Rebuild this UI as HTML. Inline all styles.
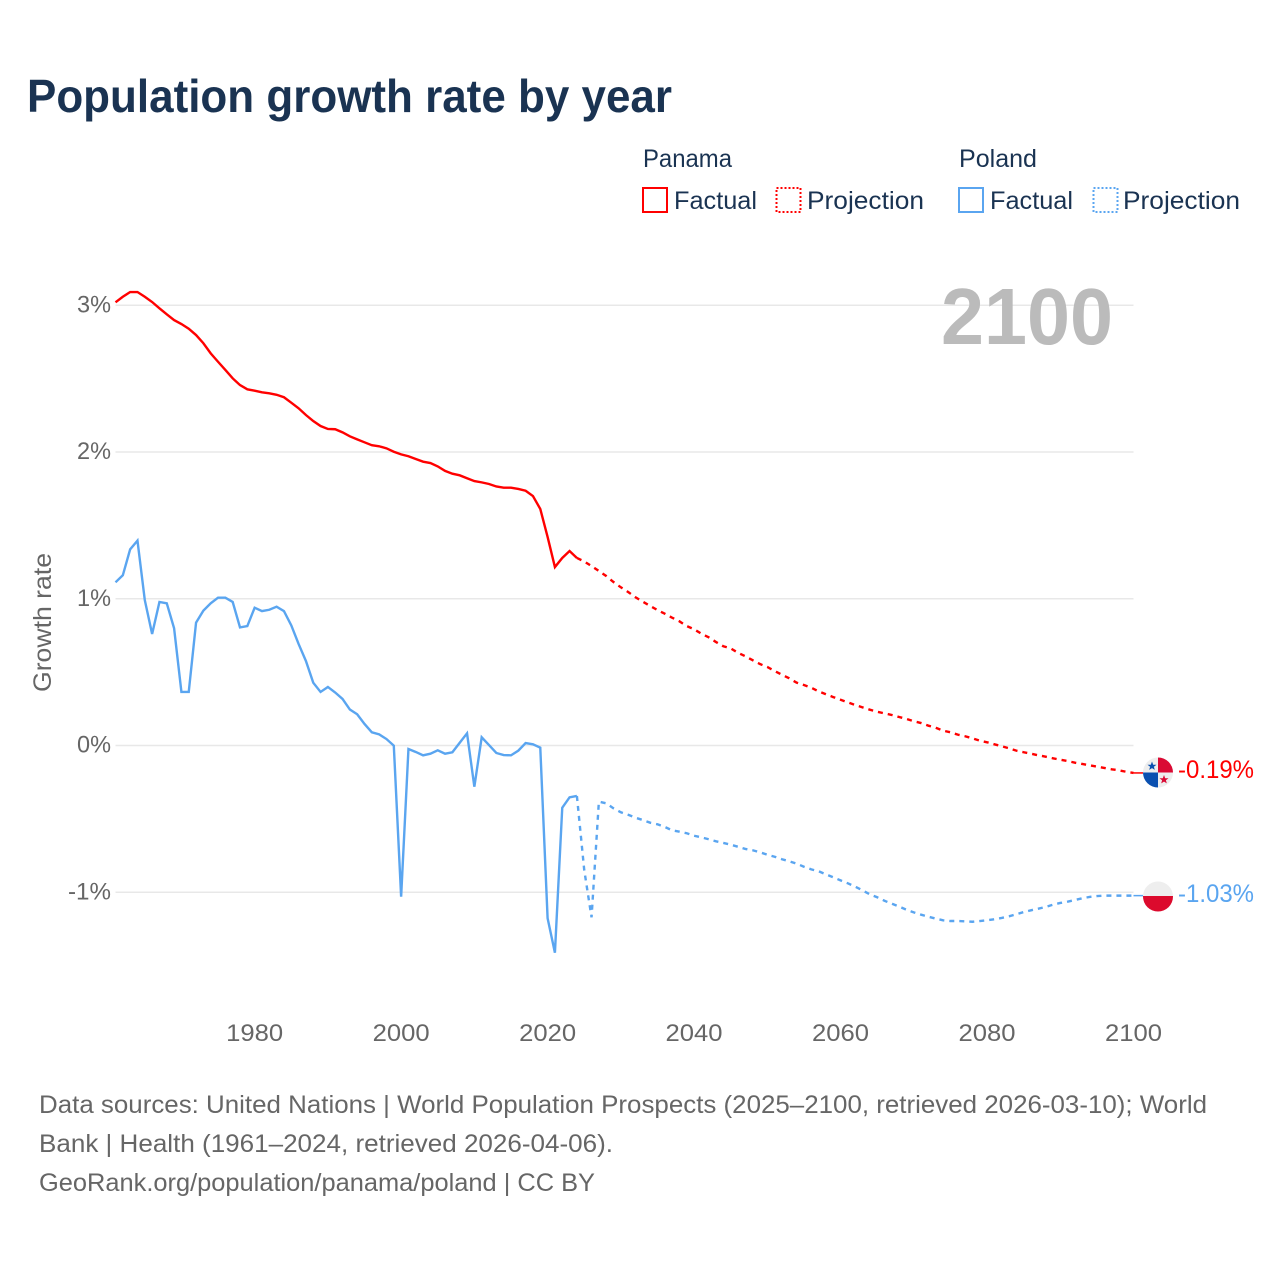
<!DOCTYPE html>
<html lang="en">
<head>
<meta charset="utf-8">
<title>Population growth rate by year</title>
<style>
html,body{margin:0;padding:0;background:#fff;}
svg{display:block;font-family:"Liberation Sans",sans-serif;}
</style>
</head>
<body>
<svg id="chart" xmlns="http://www.w3.org/2000/svg" width="1280" height="1280" viewBox="0 0 1280 1280">
  <rect width="1280" height="1280" fill="#ffffff"/>
  <text x="27" y="112" font-size="46" font-weight="700" fill="#1a3352" textLength="645" lengthAdjust="spacingAndGlyphs">Population growth rate by year</text>

  <g font-size="25" fill="#1a3352">
    <text x="643" y="167" textLength="89" lengthAdjust="spacingAndGlyphs">Panama</text>
    <rect x="643" y="188" width="24" height="24" fill="none" stroke="#ff0000" stroke-width="2"/>
    <text x="674" y="209" textLength="83" lengthAdjust="spacingAndGlyphs">Factual</text>
    <rect x="776.5" y="188" width="24" height="24" fill="none" stroke="#ff0000" stroke-width="2" stroke-dasharray="2 2"/>
    <text x="807" y="209" textLength="117" lengthAdjust="spacingAndGlyphs">Projection</text>
    <text x="959" y="167" textLength="78" lengthAdjust="spacingAndGlyphs">Poland</text>
    <rect x="959" y="188" width="24" height="24" fill="none" stroke="#5aa5f0" stroke-width="2"/>
    <text x="990" y="209" textLength="83" lengthAdjust="spacingAndGlyphs">Factual</text>
    <rect x="1093.5" y="188" width="24" height="24" fill="none" stroke="#5aa5f0" stroke-width="2" stroke-dasharray="2 2"/>
    <text x="1123" y="209" textLength="117" lengthAdjust="spacingAndGlyphs">Projection</text>
  </g>

  <g id="grid"></g>
  <g id="yticks" font-size="24" fill="#666666" text-anchor="end"></g>
  <g id="xticks" font-size="24" fill="#666666" text-anchor="middle"></g>
  <text transform="translate(51,692) rotate(-90)" font-size="25" fill="#666666" textLength="139" lengthAdjust="spacingAndGlyphs">Growth rate</text>

  <text x="941" y="344" font-size="80" font-weight="700" fill="#bbbbbb" textLength="172" lengthAdjust="spacingAndGlyphs">2100</text>

  <g id="series"></g>

  <g>
    <clipPath id="clipPanama"><circle cx="1158" cy="772.5" r="15"/></clipPath>
    <g clip-path="url(#clipPanama)">
      <rect x="1143" y="757" width="30" height="31" fill="#eeeeee"/>
      <rect x="1158" y="757" width="15" height="15.5" fill="#da0a34"/>
      <rect x="1143" y="772.5" width="15" height="15.5" fill="#0a50b0"/>
      <polygon points="1152,762 1153.2,765.2 1156.5,765.3 1153.9,767.3 1154.8,770.4 1152,768.6 1149.2,770.4 1150.1,767.3 1147.5,765.3 1150.8,765.2" transform="translate(0,-0.5)" fill="#0a50b0"/>
      <polygon points="1164,775 1165.2,778.2 1168.5,778.3 1165.9,780.3 1166.8,783.4 1164,781.6 1161.2,783.4 1162.1,780.3 1159.5,778.3 1162.8,778.2" fill="#da0a34"/>
    </g>
  </g>
  <text x="1178" y="778" font-size="25" fill="#ff0000" textLength="76" lengthAdjust="spacingAndGlyphs">-0.19%</text>

  <g>
    <clipPath id="clipPoland"><circle cx="1158" cy="896.5" r="15"/></clipPath>
    <g clip-path="url(#clipPoland)">
      <rect x="1143" y="881" width="30" height="16" fill="#eeeeee"/>
      <rect x="1143" y="896" width="30" height="16" fill="#dc0a2d"/>
    </g>
  </g>
  <text x="1178" y="902" font-size="25" fill="#5aa5f0" textLength="76" lengthAdjust="spacingAndGlyphs">-1.03%</text>

  <g font-size="25" fill="#666666">
    <text x="39" y="1113" textLength="1168" lengthAdjust="spacingAndGlyphs">Data sources: United Nations | World Population Prospects (2025–2100, retrieved 2026-03-10); World</text>
    <text x="39" y="1152" textLength="574" lengthAdjust="spacingAndGlyphs">Bank | Health (1961–2024, retrieved 2026-04-06).</text>
    <text x="39" y="1191" textLength="556" lengthAdjust="spacingAndGlyphs">GeoRank.org/population/panama/poland | CC BY</text>
  </g>
</svg>

<script>
const factualStartYear = 1961;
const projectionStartYear = 2025;
const panamaFactual = [3.020,3.058,3.090,3.090,3.058,3.022,2.979,2.938,2.899,2.872,2.840,2.797,2.741,2.672,2.615,2.559,2.502,2.456,2.427,2.418,2.407,2.400,2.390,2.373,2.336,2.298,2.252,2.211,2.177,2.157,2.155,2.134,2.107,2.086,2.066,2.046,2.039,2.025,2.002,1.984,1.971,1.952,1.934,1.925,1.902,1.871,1.852,1.841,1.821,1.802,1.793,1.782,1.765,1.757,1.757,1.748,1.736,1.700,1.612,1.421,1.216,1.278,1.325,1.278];
const panamaProjection = [1.254,1.223,1.189,1.155,1.114,1.078,1.046,1.010,0.980,0.951,0.923,0.898,0.871,0.846,0.814,0.792,0.762,0.737,0.705,0.676,0.662,0.632,0.608,0.581,0.555,0.535,0.508,0.482,0.458,0.428,0.412,0.394,0.369,0.349,0.330,0.312,0.294,0.276,0.260,0.244,0.230,0.219,0.208,0.194,0.181,0.165,0.153,0.135,0.121,0.101,0.090,0.074,0.063,0.049,0.033,0.022,0.008,-0.005,-0.019,-0.035,-0.046,-0.056,-0.067,-0.076,-0.087,-0.097,-0.106,-0.117,-0.126,-0.135,-0.144,-0.153,-0.162,-0.169,-0.179,-0.187];
const polandFactual = [1.112,1.160,1.337,1.396,0.991,0.760,0.978,0.969,0.799,0.365,0.365,0.837,0.919,0.969,1.007,1.007,0.978,0.805,0.814,0.939,0.916,0.925,0.946,0.916,0.819,0.692,0.576,0.428,0.365,0.399,0.361,0.317,0.245,0.213,0.147,0.090,0.076,0.044,-0.001,-1.030,-0.024,-0.044,-0.067,-0.056,-0.033,-0.056,-0.046,0.019,0.083,-0.281,0.056,0.003,-0.051,-0.065,-0.067,-0.035,0.017,0.008,-0.015,-1.177,-1.412,-0.424,-0.353,-0.344];
const polandProjection = [-0.848,-1.171,-0.383,-0.394,-0.428,-0.455,-0.472,-0.492,-0.508,-0.526,-0.537,-0.555,-0.578,-0.587,-0.598,-0.615,-0.626,-0.639,-0.653,-0.664,-0.676,-0.690,-0.705,-0.714,-0.728,-0.744,-0.758,-0.775,-0.789,-0.805,-0.826,-0.844,-0.857,-0.878,-0.898,-0.919,-0.939,-0.962,-0.987,-1.014,-1.034,-1.058,-1.078,-1.098,-1.119,-1.137,-1.153,-1.167,-1.180,-1.191,-1.196,-1.196,-1.198,-1.201,-1.196,-1.191,-1.184,-1.175,-1.164,-1.150,-1.135,-1.123,-1.112,-1.100,-1.085,-1.073,-1.064,-1.053,-1.041,-1.032,-1.026,-1.023,-1.023,-1.023,-1.023,-1.023];
const yTickValues = [3,2,1,0,-1];
const yTickLabels = ["3%","2%","1%","0%","-1%"];
const xTickYears = [1980,2000,2020,2040,2060,2080,2100];

const NS = "http://www.w3.org/2000/svg";
const xOf = function (year) { return 115.5 + (year - 1961) * (1133.5 - 115.5) / (2100 - 1961); };
const yOf = function (value) { return 745.5 - value * 146.75; };

function points(startYear, values) {
  return values.map(function (v, i) { return xOf(startYear + i).toFixed(2) + "," + yOf(v).toFixed(2); }).join(" ");
}

const grid = document.getElementById("grid");
const yticks = document.getElementById("yticks");
yTickValues.forEach(function (v, i) {
  const ln = document.createElementNS(NS, "line");
  
  
  ln.setAttribute("x1", xOf(1961));
  ln.setAttribute("x2", xOf(2100));
  ln.setAttribute("y1", yOf(v));
  ln.setAttribute("y2", yOf(v));
  ln.setAttribute("stroke", "#e8e8e8");
  ln.setAttribute("stroke-width", "1.5");
  grid.appendChild(ln);
  const t = document.createElementNS(NS, "text");
  
  
  t.setAttribute("x", 111);
  t.setAttribute("y", yOf(v) + 7);
  t.setAttribute("textLength", yTickLabels[i].length === 3 ? 43 : 34);
  t.setAttribute("lengthAdjust", "spacingAndGlyphs");
  t.textContent = yTickLabels[i];
  yticks.appendChild(t);
});

const xticks = document.getElementById("xticks");
xTickYears.forEach(function (yr) {
  const t = document.createElementNS(NS, "text");
  
  
  t.setAttribute("x", xOf(yr));
  t.setAttribute("y", 1041);
  t.setAttribute("textLength", 57);
  t.setAttribute("lengthAdjust", "spacingAndGlyphs");
  t.textContent = String(yr);
  xticks.appendChild(t);
});

const seriesGroup = document.getElementById("series");
function addLine(startYear, values, color, dashed) {
  const p = document.createElementNS(NS, "polyline");
  
  
  p.setAttribute("points", points(startYear, values));
  p.setAttribute("fill", "none");
  p.setAttribute("stroke", color);
  p.setAttribute("stroke-width", "2.4");
  if (dashed) p.setAttribute("stroke-dasharray", "5 5");
  seriesGroup.appendChild(p);
}
function addConnector(value, color) {
  const c = document.createElementNS(NS, "line");
  
  
  c.setAttribute("x1", xOf(2100));
  c.setAttribute("x2", 1143);
  c.setAttribute("y1", yOf(value));
  c.setAttribute("y2", yOf(value));
  c.setAttribute("stroke", color);
  c.setAttribute("stroke-width", "1.5");
  seriesGroup.appendChild(c);
}
addLine(factualStartYear, panamaFactual, "#ff0000", false);
addLine(projectionStartYear - 1, [panamaFactual[panamaFactual.length - 1]].concat(panamaProjection), "#ff0000", true);
addLine(factualStartYear, polandFactual, "#5aa5f0", false);
addLine(projectionStartYear - 1, [polandFactual[polandFactual.length - 1]].concat(polandProjection), "#5aa5f0", true);
addConnector(panamaProjection[panamaProjection.length - 1], "#ff0000");
addConnector(polandProjection[polandProjection.length - 1], "#5aa5f0");
</script>
</body>
</html>
